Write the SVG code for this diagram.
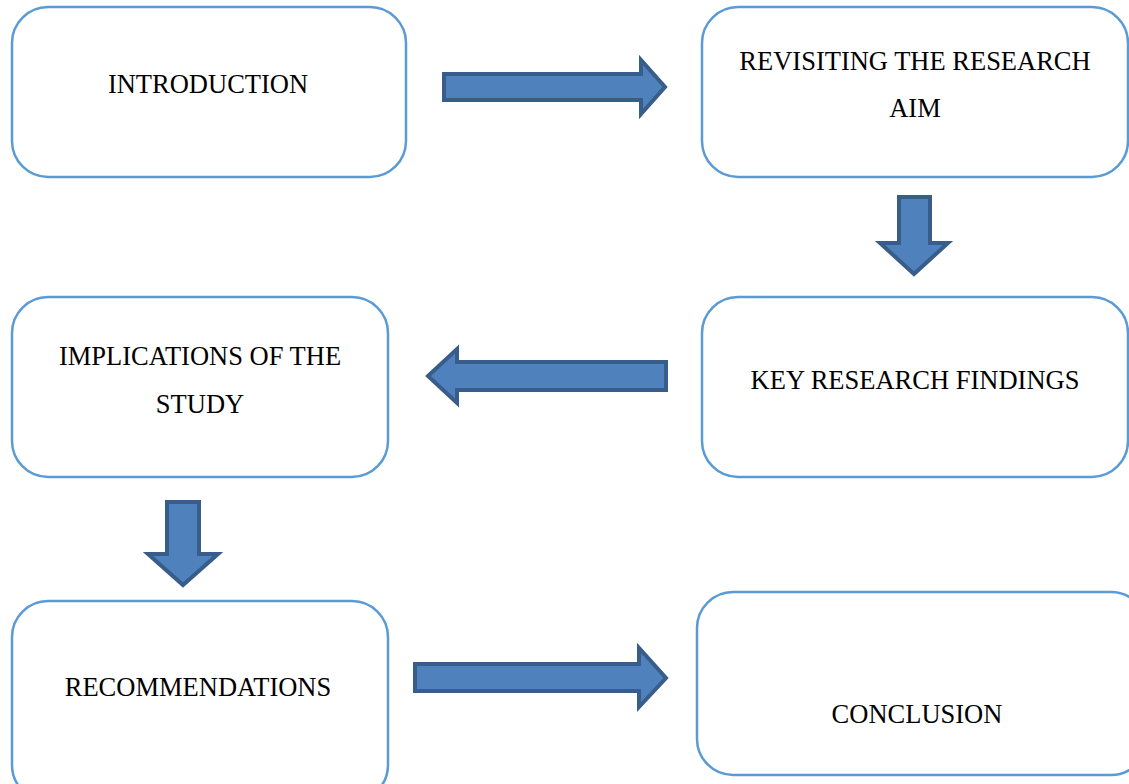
<svg xmlns="http://www.w3.org/2000/svg" width="1129" height="784" viewBox="0 0 1129 784">
<style>
.box{fill:#ffffff;stroke:#5b9bd5;stroke-width:2.5}
.lbl{font-family:"Liberation Serif","Times New Roman",serif;font-size:26.5px;fill:#000000;text-anchor:middle}
.arr{fill:#4f81bd;stroke:#385d8a;stroke-width:4;stroke-linejoin:miter}
</style>
<rect width="1129" height="784" fill="#ffffff"/>
<g id="connectors">
<path class="arr" d="M444,74 L641,74 L641,60 L665,87 L641,114 L641,100 L444,100 Z"/>
<path class="arr" d="M899,197 L930,197 L930,243 L948,243 L914,274 L880,243 L899,243 Z"/>
<path class="arr" d="M666,362 L457,362 L457,349 L428,376 L457,403 L457,390 L666,390 Z"/>
<path class="arr" d="M167,502 L199,502 L199,554 L218,554 L183,585 L148,554 L167,554 Z"/>
<path class="arr" d="M415,664 L639,664 L639,648 L666,678 L639,707 L639,691 L415,691 Z"/>
</g>
<g id="introduction">
<rect class="box" x="12" y="7" width="394" height="170" rx="36" ry="36"/>
<text class="lbl" x="208" y="93">INTRODUCTION</text>
</g>
<g id="revisiting">
<rect class="box" x="702" y="7" width="426" height="170" rx="36" ry="36"/>
<text class="lbl" x="915" y="70">REVISITING THE RESEARCH</text>
<text class="lbl" x="915" y="117">AIM</text>
</g>
<g id="implications">
<rect class="box" x="12" y="297" width="376" height="180" rx="36" ry="36"/>
<text class="lbl" x="200" y="365">IMPLICATIONS OF THE</text>
<text class="lbl" x="200" y="413">STUDY</text>
</g>
<g id="findings">
<rect class="box" x="702" y="297" width="426" height="180" rx="36" ry="36"/>
<text class="lbl" x="915" y="389">KEY RESEARCH FINDINGS</text>
</g>
<g id="recommendations">
<rect class="box" x="12" y="601" width="376" height="200" rx="36" ry="36"/>
<text class="lbl" x="198" y="696">RECOMMENDATIONS</text>
</g>
<g id="conclusion">
<rect class="box" x="697" y="592" width="450" height="183" rx="36" ry="36"/>
<text class="lbl" x="917" y="723">CONCLUSION</text>
</g>
</svg>
